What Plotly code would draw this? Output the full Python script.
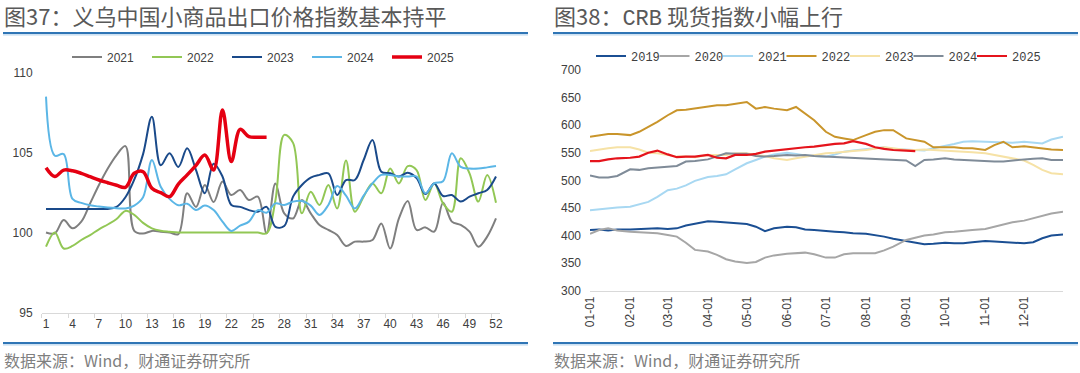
import plotly.graph_objects as go

# ---------------- Left chart: Yiwu export price index (weekly) ----------------
weeks = list(range(1, 53))
week_ticks = list(range(1, 53, 3))

yiwu_2021 = [100.0, 99.95, 100.78, 100.26, 100.68, 101.82, 102.97, 104.0, 104.84, 105.4,
             100.1, 99.93, 100.1, 100.05, 100.0, 99.9, 102.45, 101.6, 102.97, 101.9,
             103.18, 102.34, 102.66, 102.03, 102.24, 99.95, 103.07, 101.2, 100.88, 102.03,
             101.2, 100.47, 100.16, 99.84, 99.16, 99.43, 99.43, 99.53, 100.57, 99.0,
             100.88, 101.97, 100.16, 100.32, 100.05, 101.86, 100.68, 100.47, 100.05, 99.11,
             99.74, 100.88]
yiwu_2022 = [99.11, 100.0, 99.0, 99.16, 99.53, 99.84, 100.2, 100.5, 100.84, 101.35,
             101.1, 100.6, 100.26, 100.11, 100.05, 100.0, 100.0, 100.0, 100.0, 100.0,
             100.0, 100.0, 100.0, 100.0, 100.0, 99.95, 102.0, 106.1, 105.6, 101.2,
             102.55, 101.72, 102.97, 101.5, 104.5, 101.3, 102.24, 103.07, 102.45, 104.0,
             103.07, 104.15, 103.9, 102.03, 103.07, 101.82, 101.3, 104.64, 103.7, 101.93,
             103.6, 101.86]
yiwu_2023 = [101.47, 101.47, 101.47, 101.47, 101.47, 101.47, 101.47, 101.47, 101.6, 102.2,
             103.3, 104.9, 107.24, 104.2, 104.95, 104.1, 105.26, 103.9, 102.45, 104.3,
             103.5, 101.72, 101.6, 101.4, 101.3, 101.6, 100.35, 100.4, 102.24, 102.97,
             103.43, 103.6, 103.7, 102.34, 103.28, 103.28, 104.53, 105.78, 103.8, 103.7,
             103.5, 103.74, 103.4, 102.4, 103.07, 102.28, 102.34, 101.93, 102.24, 102.45,
             102.66, 103.5]
yiwu_2024 = [108.49, 104.8, 104.9, 102.1, 101.85, 101.7, 101.62, 101.56, 101.52, 101.5,
             101.68, 102.2, 104.53, 102.86, 102.1, 101.7, 101.8, 101.4, 101.68, 101.4,
             100.68, 100.1, 100.43, 100.68, 101.4, 101.24, 101.82, 101.72, 101.93, 101.97,
             101.68, 101.1, 101.72, 102.9, 102.3, 101.5, 102.3, 103.07, 103.6, 103.6,
             103.5, 103.5, 103.5, 102.45, 103.07, 103.2, 104.95, 104.1, 104.0, 104.0,
             104.07, 104.15]
yiwu_2025 = [104.05, 103.5, 103.9, 103.86, 103.7, 103.49, 103.28, 103.11, 102.95, 102.82,
             103.7, 103.8, 102.76, 102.49, 102.24, 103.03, 103.6, 104.2, 104.84, 103.9,
             107.66, 104.43, 106.45, 105.99, 105.95, 105.95]

left_names = ["2021", "2022", "2023", "2024", "2025"]
left_series = [yiwu_2021, yiwu_2022, yiwu_2023, yiwu_2024, yiwu_2025]
left_colors = ["#7F7F7F", "#92C755", "#1A4A8A", "#5BB6E6", "#E50012"]
left_widths = [2, 2, 2, 2, 3.5]

# ---------------- Right chart: CRB spot index (by calendar day) ----------------
month_nums = list(range(1, 13))
day_marks = [1, 8, 15, 22]
crb_dates = ["2000-%02d-%02d" % (m, d) for m in month_nums for d in day_marks] + ["2000-12-31"]
month_ticks = ["2000-%02d-01" % m for m in month_nums]
month_labels = ["%02d-01" % m for m in month_nums]

crb_2019 = [410, 411, 409, 411, 411, 412, 413, 413, 412, 413, 418, 421,
            426, 425, 424, 423, 421, 416, 408, 413, 416, 415, 411, 410,
            409, 407, 406, 404, 403, 401, 398, 394, 390, 386, 384, 385,
            387, 386, 386, 388, 390, 389, 388, 388, 386, 388, 395, 400, 402]
crb_2020 = [403, 410, 413, 409, 407, 406, 405, 404, 401, 398, 387, 374,
            371, 365, 357, 353, 350, 352, 360, 364, 367, 368, 369, 366,
            360, 360, 366, 368, 368, 368, 373, 380, 392, 396, 400, 402,
            406, 407, 409, 410, 412, 416, 421, 424, 427, 431, 435, 440, 443]
crb_2021 = [446, 448, 449, 451, 452, 456, 461, 470, 482, 485, 491, 499,
            506, 508, 511, 520, 531, 537, 543, 547, 550, 548, 545, 544,
            543, 547, 552, 554, 556, 558, 560, 557, 556, 555, 554, 558,
            562, 566, 570, 571, 570, 569, 568, 568, 570, 568, 567, 574, 579]
crb_2022 = [579, 582, 584, 584, 582, 588, 597, 606, 618, 627, 628, 630,
            633, 636, 636, 639, 642, 630, 633, 630, 627, 633, 621, 609,
            588, 579, 576, 573, 582, 588, 591, 591, 576, 573, 570, 560,
            560, 560, 558, 558, 555, 564, 570, 560, 562, 560, 558, 556, 555]
crb_2023 = [553, 556, 558, 560, 560, 556, 550, 549, 546, 543, 543, 542,
            546, 546, 546, 549, 549, 546, 544, 540, 537, 540, 543, 546,
            549, 550, 551, 553, 555, 557, 560, 558, 555, 555, 556, 555,
            554, 553, 552, 551, 549, 546, 543, 540, 536, 528, 519, 513, 511]
crb_2024 = [509, 505, 505, 508, 520, 519, 522, 523, 525, 526, 534, 535,
            538, 544, 549, 548, 548, 544, 543, 544, 546, 545, 546, 544,
            543, 542, 542, 541, 540, 539, 538, 538, 536, 526, 537, 538,
            540, 538, 537, 536, 535, 534, 534, 536, 538, 539, 540, 537, 537]
crb_2025 = [535, 535, 538, 540, 541, 543, 550, 554, 547, 542, 543, 543,
            546, 541, 540, 546, 546, 548, 552, 554, 556, 558, 560, 561,
            564, 566, 567, 571, 566, 560, 557, 555, 554, 553]

right_names = ["2019", "2020", "2021", "2022", "2023", "2024", "2025"]
right_series = [crb_2019, crb_2020, crb_2021, crb_2022, crb_2023, crb_2024, crb_2025]
right_colors = ["#1B4F93", "#A6A6A6", "#A8D8F2", "#C9952B", "#F6E2A6", "#7F8B98", "#E5141C"]
right_widths = [2, 2, 2, 2, 2, 2, 2.2]

W, H = 1080, 373
def px_x(x):
    return x / W
def px_y(y):
    return 1 - y / H

fig = go.Figure()

for name, vals, col, lw in zip(left_names, left_series, left_colors, left_widths):
    fig.add_trace(go.Scatter(x=weeks[:len(vals)], y=vals, name=name, mode="lines",
                             line=dict(color=col, width=lw, shape="spline", smoothing=1.0),
                             xaxis="x", yaxis="y", legend="legend"))

for i, (name, vals, col, lw) in enumerate(zip(right_names, right_series, right_colors, right_widths)):
    extra = dict(legendwidth=40) if i == len(right_names) - 1 else {}
    fig.add_trace(go.Scatter(x=crb_dates[:len(vals)], y=vals, name=name, mode="lines",
                             line=dict(color=col, width=lw),
                             xaxis="x2", yaxis="y2", legend="legend2", **extra))

tick_font = dict(family="Liberation Sans, Arial, sans-serif", size=12, color="#404040")

fig.update_layout(
    width=W, height=H, autosize=False,
    margin=dict(l=0, r=0, t=0, b=0, pad=0, autoexpand=False),
    paper_bgcolor="white", plot_bgcolor="white",
    showlegend=True,
    xaxis=dict(domain=[px_x(41.6), px_x(500.4)], range=[0.5, 52.5], automargin=False,
               tickmode="array", tickvals=week_ticks, ticktext=[str(v) for v in week_ticks],
               showgrid=False, zeroline=False, showline=True, linecolor="#D9D9D9", linewidth=1,
               ticks="", tickfont=tick_font, anchor="y",
               minor=dict(tick0=0.5, dtick=3, ticks="outside", ticklen=4, tickcolor="#D9D9D9")),
    yaxis=dict(domain=[px_y(312.5), px_y(72.5)], range=[95, 110], automargin=False,
               tickvals=[95, 100, 105, 110], showgrid=False, zeroline=False,
               showline=False, ticks="", tickfont=tick_font, anchor="x",
               ticklabelstandoff=8),
    xaxis2=dict(domain=[px_x(590), px_x(1063)], type="date", automargin=False,
                range=["2000-01-01", "2000-12-31"],
                tickmode="array", tickvals=month_ticks, ticktext=month_labels,
                tickangle=-90, showgrid=False, zeroline=False, showline=True,
                linecolor="#D9D9D9", linewidth=1, ticks="", tickfont=tick_font, anchor="y2"),
    yaxis2=dict(domain=[px_y(290.7), px_y(70)], range=[300, 700], automargin=False,
                tickvals=[300, 350, 400, 450, 500, 550, 600, 650, 700],
                showgrid=False, zeroline=False, showline=False, ticks="",
                tickfont=tick_font, anchor="x2", ticklabelstandoff=8),
    legend=dict(orientation="h", x=px_x(67), xanchor="left", y=px_y(57), yanchor="middle",
                entrywidth=35, font=dict(family="Liberation Sans, Arial, sans-serif", size=12, color="#404040"),
                bgcolor="rgba(0,0,0,0)", tracegroupgap=0),
    legend2=dict(orientation="h", x=px_x(591), xanchor="left", y=px_y(56), yanchor="middle",
                 entrywidth=18.5, font=dict(family="Liberation Mono, monospace", size=12, color="#404040"),
                 bgcolor="rgba(0,0,0,0)", tracegroupgap=0),
)

title_font = dict(family="Noto Sans CJK SC, sans-serif", size=22, color="#595959")
src_font = dict(family="Noto Sans CJK SC, sans-serif", size=16, color="#7F7F7F")

fig.add_annotation(text="图37：义乌中国小商品出口价格指数基本持平", xref="paper", yref="paper",
                   x=px_x(2), y=px_y(15), xanchor="left", yanchor="middle", showarrow=False,
                   font=title_font)
fig.add_annotation(text="图38：<span style='font-family:Liberation Mono'>CRB</span> 现货指数小幅上行",
                   xref="paper", yref="paper",
                   x=px_x(552), y=px_y(15), xanchor="left", yanchor="middle", showarrow=False,
                   font=title_font)
for x0 in (2, 552):
    fig.add_annotation(text="数据来源：Wind，财通证券研究所", xref="paper", yref="paper",
                       x=px_x(x0), y=px_y(360), xanchor="left", yanchor="middle", showarrow=False,
                       font=src_font)

for (x0, x1) in ((3, 528), (553, 1078)):
    for yy in (33, 343):
        fig.add_shape(type="line", xref="paper", yref="paper",
                      x0=px_x(x0), x1=px_x(x1), y0=px_y(yy), y1=px_y(yy),
                      line=dict(color="#2F75B5", width=2))
        fig.add_shape(type="line", xref="paper", yref="paper",
                      x0=px_x(x0), x1=px_x(x1), y0=px_y(yy + 1.8), y1=px_y(yy + 1.8),
                      line=dict(color="#BDD7EE", width=1.2))

fig.write_html("out.html",
               config={"displayModeBar": False},
               post_script="document.body.style.margin='0';document.body.style.padding='0';"
                           "document.body.style.overflow='hidden';")
